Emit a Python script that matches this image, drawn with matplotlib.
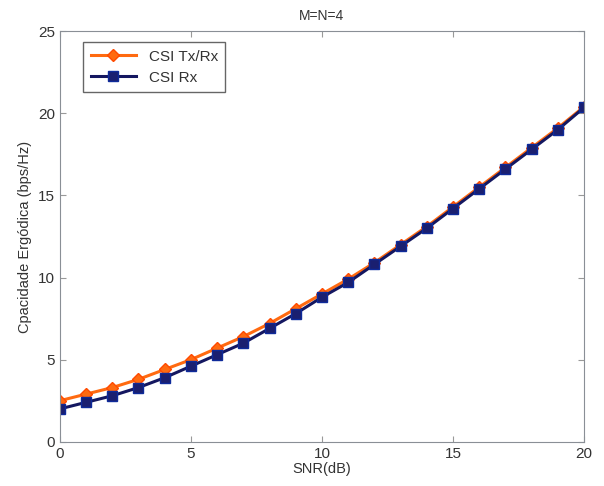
import numpy as np
import matplotlib.pyplot as plt

plt.rcParams['font.family'] = ['Liberation Sans', 'DejaVu Sans']

snr = list(range(0, 21))
csi_txrx = [2.5, 2.9, 3.3, 3.8, 4.4, 5.0, 5.7, 6.4, 7.2, 8.1, 9.0,
            9.9, 10.9, 12.0, 13.1, 14.3, 15.5, 16.7, 17.9, 19.1, 20.4]
csi_rx = [2.0, 2.4, 2.8, 3.3, 3.9, 4.6, 5.3, 6.0, 6.9, 7.8, 8.8,
          9.7, 10.8, 11.9, 13.0, 14.2, 15.4, 16.6, 17.8, 19.0, 20.35]

fig = plt.figure(figsize=(6.04, 4.86), dpi=100)
ax = fig.add_axes([0.099, 0.091, 0.868, 0.845])

ax.plot(snr, csi_txrx, '-D', color='#ff6a10', linewidth=2.2, markersize=6.5,
        markerfacecolor='#ff6a10', markeredgecolor='#ff4a00', label='CSI Tx/Rx')
ax.plot(snr, csi_rx, '-s', color='#141760', linewidth=2.2, markersize=6.5,
        markerfacecolor='#1a1f70', markeredgecolor='#0e2a9a', label='CSI Rx')

ax.set_xlim(0, 20)
ax.set_ylim(0, 25)
ax.set_xticks([0, 5, 10, 15, 20])
ax.set_yticks([0, 5, 10, 15, 20, 25])
ax.tick_params(direction='in', labelsize=11, colors='#333333', top=True, right=True,
               length=4, color='#999999')
for s in ax.spines.values():
    s.set_color('#8a8f96')

ax.set_title('M=N=4', fontsize=10, color='#333333', pad=8)
ax.set_xlabel('SNR(dB)', fontsize=10.5, color='#333333', labelpad=1)
ax.set_ylabel('Cpacidade Ergódica (bps/Hz)', fontsize=10.5, color='#333333')

leg = ax.legend(loc='upper left', bbox_to_anchor=(0.044, 0.973), borderaxespad=0,
                fontsize=11, fancybox=False, framealpha=1, edgecolor='#666666',
                handlelength=3.0, borderpad=0.5, labelspacing=0.45)
for t in leg.get_texts():
    t.set_color('#333333')

fig.savefig('out.png', dpi=100)
